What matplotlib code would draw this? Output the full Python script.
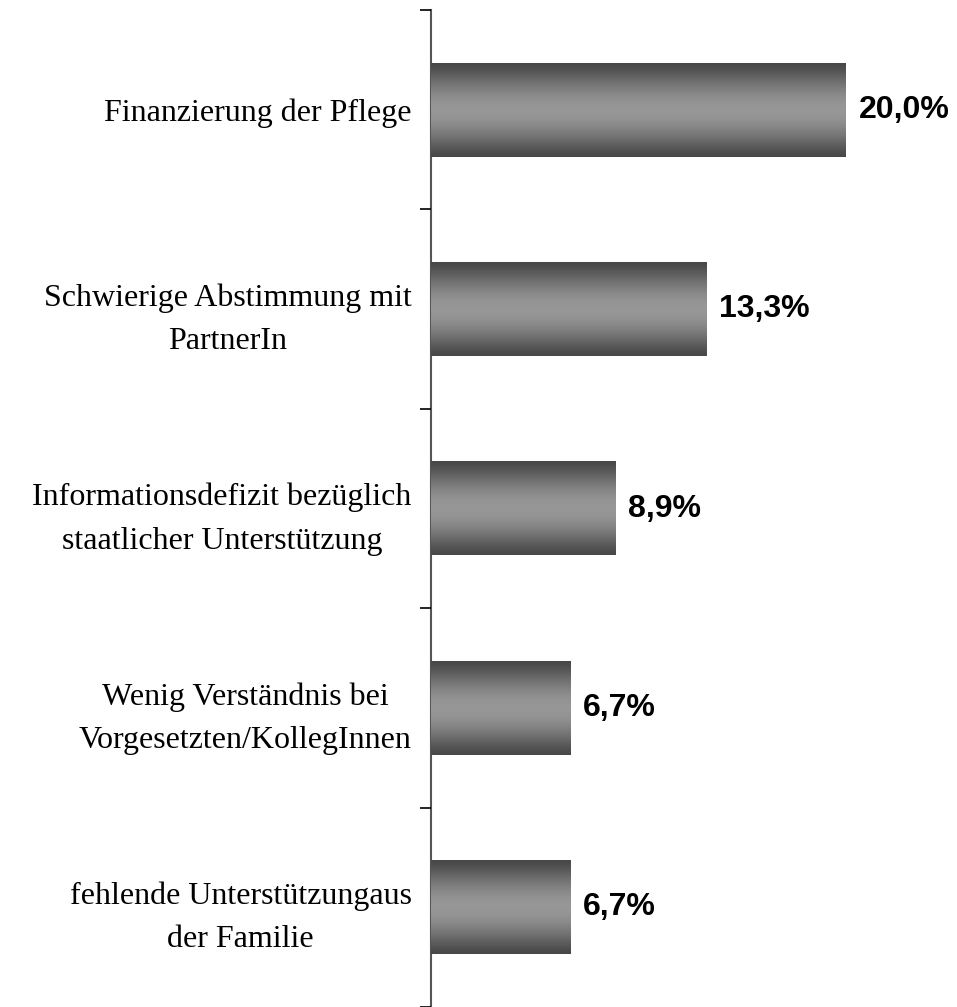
import numpy as np
import matplotlib.pyplot as plt

categories = [
    "Finanzierung der Pflege",
    "Schwierige Abstimmung mit\nPartnerIn",
    "Informationsdefizit bezüglich\nstaatlicher Unterstützung",
    "Wenig Verständnis bei\nVorgesetzten/KollegInnen",
    "fehlende Unterstützungaus\nder Familie",
]
values = [20.0, 13.3, 8.9, 6.7, 6.7]
value_labels = ["20,0%", "13,3%", "8,9%", "6,7%", "6,7%"]

W, H = 957, 1007
fig = plt.figure(figsize=(W / 100, H / 100), dpi=100)
ax = fig.add_axes([431 / W, 0, 1 - 431 / W, 1 - 10 / H])

y = np.arange(len(categories))
bars = ax.barh(y, values, height=0.47, color="none", zorder=2)

# vertical gradient: dark at top/bottom, light in the middle
t = np.linspace(0, 1, 256)
shade = 0.28 + 0.31 * np.sin(np.pi * t) ** 1.3
grad = np.dstack([shade, shade, shade])[0][:, None, :]
for b in bars:
    x0, y0 = b.get_x(), b.get_y()
    w, h = b.get_width(), b.get_height()
    ax.imshow(grad, extent=(x0, x0 + w, y0, y0 + h), aspect="auto",
              interpolation="bilinear", zorder=2)

for yi, v, lab in zip(y, values, value_labels):
    ax.text(v + 0.6, yi, lab, va="center", ha="left", fontsize=23,
            fontweight="bold", family="Liberation Sans", color="black")

ax.set_xlim(0, (W - 431) / 20.75)
ax.set_ylim(len(categories) - 0.5, -0.5)
ax.set_yticks(y)
ax.set_yticklabels(categories, family="Liberation Serif", fontsize=23,
                   linespacing=1.65, ha="right", multialignment="center")
ax.tick_params(axis="y", which="major", length=0, pad=14)
ax.set_yticks(np.arange(-0.5, len(categories)), minor=True)
ax.tick_params(axis="y", which="minor", length=8, width=1.2, color="black")
ax.set_xticks([])
for s in ["top", "right", "bottom"]:
    ax.spines[s].set_visible(False)
ax.spines["left"].set_color("#555555")
ax.spines["left"].set_linewidth(1.5)
ax.spines["left"].set_zorder(1)

fig.savefig("out.png", dpi=100, facecolor="white")
